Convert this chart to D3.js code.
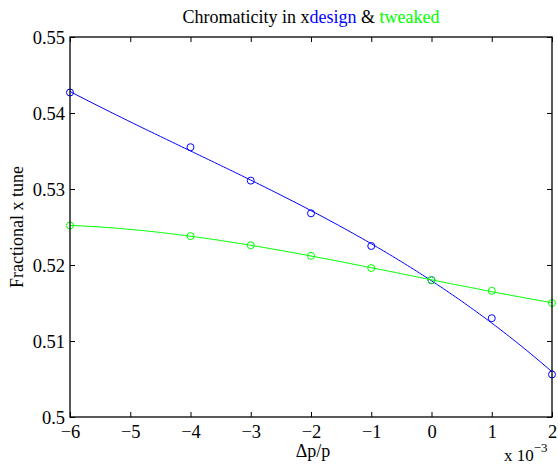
<!DOCTYPE html>
<html><head><meta charset="utf-8">
<script src="https://cdn.jsdelivr.net/npm/d3@7"></script>
<style>body{margin:0;background:#fff}svg{display:block}text{font-family:"Liberation Serif","Times New Roman",serif}</style>
</head><body><svg id="c" width="558" height="471"></svg>
<script>
const dp = [-6, -4, -3, -2, -1, 0, 1, 2];            // Δp/p ×1e-3
const design = [0.5427, 0.5355, 0.5311, 0.5268, 0.5225, 0.5180, 0.5130, 0.5056];
const tweaked = [0.5252, 0.5238, 0.5226, 0.5212, 0.5196, 0.5180, 0.5166, 0.5150];
const xTicks = [-6, -5, -4, -3, -2, -1, 0, 1, 2];
const yTicks = [0.5, 0.51, 0.52, 0.53, 0.54, 0.55];

const W = 558, H = 471, m = {l: 70, r: 6, t: 37, b: 54};
const svg = d3.select("#c");
const x = d3.scaleLinear().domain([-6, 2]).range([m.l, W - m.r]);
const y = d3.scaleLinear().domain([0.5, 0.55]).range([H - m.b, m.t]);

// least squares polynomial fit (like MATLAB polyfit)
function polyfit(xs, ys, deg) {
  const n = deg + 1;
  const A = Array.from({length: n}, () => new Array(n + 1).fill(0));
  for (let k = 0; k < xs.length; k++) {
    for (let i = 0; i < n; i++) {
      for (let j = 0; j < n; j++) A[i][j] += Math.pow(xs[k], i + j);
      A[i][n] += ys[k] * Math.pow(xs[k], i);
    }
  }
  for (let i = 0; i < n; i++) {
    let p = i;
    for (let r = i + 1; r < n; r++) if (Math.abs(A[r][i]) > Math.abs(A[p][i])) p = r;
    [A[i], A[p]] = [A[p], A[i]];
    for (let r = 0; r < n; r++) if (r !== i) {
      const f = A[r][i] / A[i][i];
      for (let c = i; c <= n; c++) A[r][c] -= f * A[i][c];
    }
  }
  const c = A.map((row, i) => row[n] / row[i]);
  return v => c.reduce((s, ci, i) => s + ci * Math.pow(v, i), 0);
}

const series = [
  {vals: design, color: "#0000ff"},
  {vals: tweaked, color: "#00ff00"}
];
const line = d3.line().x(d => x(d[0])).y(d => y(d[1]));
const samples = d3.range(0, 161).map(i => -6 + i * 8 / 160);
series.forEach(s => {
  const f = polyfit(dp, s.vals, 3);
  svg.append("path").attr("d", line(samples.map(v => [v, f(v)])))
    .attr("fill", "none").attr("stroke", s.color).attr("stroke-width", 1);
  svg.selectAll(null).data(dp.map((v, i) => [v, s.vals[i]])).enter().append("circle")
    .attr("cx", d => x(d[0])).attr("cy", d => y(d[1])).attr("r", 3.5)
    .attr("fill", "none").attr("stroke", s.color).attr("stroke-width", 1);
});

// axes (MATLAB box style, inward ticks)
const tl = 5;
const gB = svg.append("g").attr("transform", `translate(0,${H - m.b})`)
  .call(d3.axisBottom(x).tickValues(xTicks).tickSize(-tl).tickPadding(8).tickFormat(d => d < 0 ? "\u2212" + (-d) : d));
const gT = svg.append("g").attr("transform", `translate(0,${m.t})`)
  .call(d3.axisTop(x).tickValues(xTicks).tickSize(-tl).tickFormat(""));
const gL = svg.append("g").attr("transform", `translate(${m.l},0)`)
  .call(d3.axisLeft(y).tickValues(yTicks).tickSize(-tl).tickPadding(5).tickFormat(d => d3.format("")(+d.toFixed(2))));
const gR = svg.append("g").attr("transform", `translate(${W - m.r},0)`)
  .call(d3.axisRight(y).tickValues(yTicks).tickSize(-tl).tickFormat(""));
[gB, gT, gL, gR].forEach(g => {
  g.attr("font-family", '"Liberation Serif",serif');
  g.select(".domain").remove();
  g.selectAll("line").attr("stroke", "#000");
  g.selectAll("text").attr("fill", "#000").style("font-size", "18.5px").style("font-family", '"Liberation Serif",serif');
});
gL.selectAll("text").attr("dy", "0.33em");
svg.append("rect").attr("x", m.l).attr("y", m.t).attr("width", W - m.r - m.l).attr("height", H - m.b - m.t)
  .attr("fill", "none").attr("stroke", "#000").attr("stroke-width", 1.3);

// title
const t = svg.append("text").attr("x", (m.l + W - m.r) / 2).attr("y", 23).attr("text-anchor", "middle")
  .style("font-size", "18px");
t.append("tspan").text("Chromaticity in x");
t.append("tspan").attr("fill", "#0000ff").text("design");
t.append("tspan").text(" & ");
t.append("tspan").attr("fill", "#00ff00").text("tweaked");

// axis labels
svg.append("text").attr("x", (m.l + W - m.r) / 2 + 2).attr("y", 457).attr("text-anchor", "middle")
  .style("font-size", "18px").text("\u0394p/p");
svg.append("text").attr("transform", `translate(23,${(m.t + H - m.b) / 2}) rotate(-90)`).attr("text-anchor", "middle")
  .style("font-size", "18px").text("Fractional x tune");
const ex = svg.append("text").attr("x", 504).attr("y", 461).style("font-size", "17px");
ex.append("tspan").text("x 10");
ex.append("tspan").attr("dy", -9).style("font-size", "13px").text("\u22123");
</script></body></html>
